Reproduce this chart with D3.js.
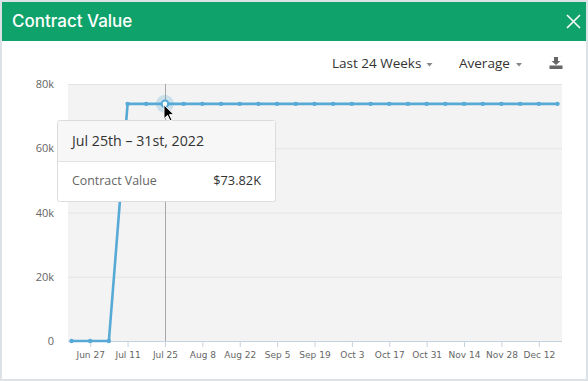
<!DOCTYPE html>
<html><head><meta charset="utf-8">
<script src="https://cdn.jsdelivr.net/npm/d3@7"></script>
<style>
html,body{margin:0;padding:0;background:#dde2e6;}
svg{display:block;}
text{font-family:"Open Sans","DejaVu Sans",sans-serif;}
</style></head>
<body>
<svg id="c" width="588" height="381"></svg>
<script>
// ---- data ----
const weekStarts = ["2022-06-20","2022-06-27","2022-07-04","2022-07-11","2022-07-18","2022-07-25","2022-08-01","2022-08-08","2022-08-15","2022-08-22","2022-08-29","2022-09-05","2022-09-12","2022-09-19","2022-09-26","2022-10-03","2022-10-10","2022-10-17","2022-10-24","2022-10-31","2022-11-07","2022-11-14","2022-11-21","2022-11-28","2022-12-05","2022-12-12","2022-12-19"];
const contractValues = [0,0,0,73820,73820,73820,73820,73820,73820,73820,73820,73820,73820,73820,73820,73820,73820,73820,73820,73820,73820,73820,73820,73820,73820,73820,73820];
const xTickDates = ["2022-06-27","2022-07-11","2022-07-25","2022-08-08","2022-08-22","2022-09-05","2022-09-19","2022-10-03","2022-10-17","2022-10-31","2022-11-14","2022-11-28","2022-12-12"];
const yTicks = [0,20000,40000,60000,80000];
const hoverIndex = 5;
const tooltipTitle = "Jul 25th – 31st, 2022";
const seriesName = "Contract Value";
const chartTitle = "Contract Value";
const rangeLabel = "Last 24 Weeks";
const aggLabel = "Average";

const parse = d3.timeParse("%Y-%m-%d");
const data = weekStarts.map((d,i)=>({date:parse(d), value:contractValues[i]}));

const svg = d3.select("#c");
// frame
svg.append("rect").attr("x",2).attr("y",2).attr("width",584).attr("height",377).attr("fill","#fff");
svg.append("rect").attr("x",2).attr("y",2).attr("width",584).attr("height",39).attr("fill","#0fa36b");
svg.append("text").attr("x",12).attr("y",27).attr("fill","#fff").attr("font-size",17).attr("font-weight",500)
  .style("font-family","Inter, 'Open Sans', sans-serif").text(chartTitle);
// close X
svg.append("path").attr("d","M567,15 L580,28 M580,15 L567,28").attr("stroke","#fff").attr("stroke-width",1.6);

// controls
const ctl = svg.append("g").style("font-family","Inter, 'Open Sans', sans-serif").attr("font-size",13.5).attr("fill","#333");
ctl.append("text").attr("x",332).attr("y",68).text(rangeLabel);
ctl.append("path").attr("d","M426.5,63 L432.5,63 L429.5,66.5 Z").attr("fill","#888");
ctl.append("text").attr("x",459).attr("y",68).text(aggLabel);
ctl.append("path").attr("d","M516,63 L522,63 L519,66.5 Z").attr("fill","#888");
// download icon
ctl.append("path").attr("d","M554,57 L558,57 L558,61 L560.5,61 L556,65 L551.5,61 L554,61 Z").attr("fill","#666");
ctl.append("rect").attr("x",549.5).attr("y",65.5).attr("width",13).attr("height",3.5).attr("fill","#666");

// plot
const x = d3.scaleTime().domain([data[0].date, data[data.length-1].date]).range([71.5,557.5]);
const y = d3.scaleLinear().domain([0,80000]).range([341,84]);
const plotL=68, plotR=562;
svg.append("rect").attr("x",plotL).attr("y",84).attr("width",plotR-plotL).attr("height",257).attr("fill","#f3f3f3");

// grid
svg.append("g").selectAll("line").data(yTicks.filter(d=>d>0)).join("line")
  .attr("x1",plotL).attr("x2",plotR).attr("y1",d=>y(d)+0.5).attr("y2",d=>y(d)+0.5)
  .attr("stroke","#e4e4e4").attr("stroke-width",1);

// y axis
const yAxis = d3.axisLeft(y).tickValues(yTicks).tickSize(0).tickPadding(14)
  .tickFormat(d=> d===0 ? "0" : (d/1000)+"k");
const gy = svg.append("g").attr("transform",`translate(${plotL},0)`).call(yAxis);
gy.select(".domain").remove();
gy.selectAll("text").attr("fill","#666").attr("font-size",11).style("font-family","'Open Sans', sans-serif");

// x axis
const xAxis = d3.axisBottom(x).tickValues(xTickDates.map(parse)).tickSize(6).tickPadding(5)
  .tickFormat(d3.timeFormat("%b %-d"));
const gx = svg.append("g").attr("transform","translate(0,341)").call(xAxis);
gx.select(".domain").attr("d",`M${plotL},0.5H${plotR}`).attr("stroke","#c5d3e0");
gx.selectAll(".tick line").attr("stroke","#c5d3e0");
gx.selectAll("text").attr("fill","#666").style("font-family","'DejaVu Sans', sans-serif").attr("font-size",9);

// crosshair
const hx = x(data[hoverIndex].date);
svg.append("line").attr("x1",Math.round(hx)+0.5).attr("x2",Math.round(hx)+0.5).attr("y1",84).attr("y2",341)
  .attr("stroke","#a8a8a8").attr("stroke-width",1);

// line
const line = d3.line().x(d=>x(d.date)).y(d=>y(d.value));
svg.append("path").datum(data).attr("d",line).attr("fill","none").attr("stroke","#57a9d6").attr("stroke-width",2.6)
  .attr("stroke-linejoin","round");
svg.append("g").selectAll("circle").data(data).join("circle")
  .attr("cx",d=>x(d.date)).attr("cy",d=>y(d.value)).attr("r",2.2).attr("fill","#57a9d6");

// hover halo
const hd = data[hoverIndex];
svg.append("circle").attr("cx",x(hd.date)).attr("cy",y(hd.value)).attr("r",9).attr("fill","#57a9d6").attr("opacity",0.25);
svg.append("circle").attr("cx",x(hd.date)).attr("cy",y(hd.value)).attr("r",3.3).attr("fill","#fff").attr("stroke","#57a9d6").attr("stroke-width",2);

// tooltip
const tt = svg.append("g");
tt.append("rect").attr("x",57.5).attr("y",120.5).attr("width",218).attr("height",81).attr("rx",2)
  .attr("fill","#fff").attr("stroke","#dcdcdc");
tt.append("rect").attr("x",58).attr("y",121).attr("width",217).attr("height",40).attr("fill","#f7f7f7");
tt.append("line").attr("x1",58).attr("x2",275).attr("y1",161.5).attr("y2",161.5).attr("stroke","#e2e2e2");
tt.append("text").attr("x",72).attr("y",146).attr("fill","#333").attr("font-size",14.2).text(tooltipTitle);
tt.append("text").attr("x",72).attr("y",185).attr("fill","#666").attr("font-size",12.4).text(seriesName);
tt.append("text").attr("x",261).attr("y",185).attr("fill","#333").attr("font-size",12.8).attr("text-anchor","end")
  .text("$" + d3.format(".2f")(hd.value/1000) + "K");

// cursor
const cx0 = x(hd.date)-1, cy0 = y(hd.value)+1;
svg.append("path").attr("transform",`translate(${cx0},${cy0})`)
  .attr("d","M0,0 L0,14 L3.5,10.5 L6,16 L8,15 L5.5,9.8 L10,9.8 Z")
  .attr("fill","#000").attr("stroke","#fff").attr("stroke-width",1);
</script>
</body></html>
